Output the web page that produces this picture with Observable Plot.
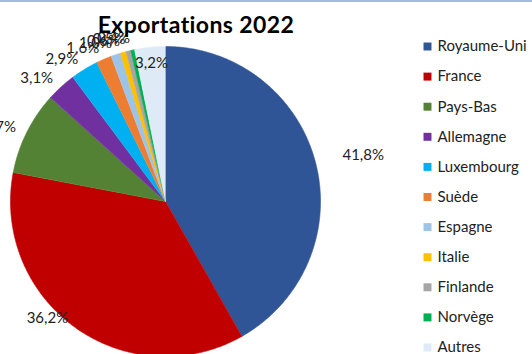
<!DOCTYPE html>
<html>
<head>
<meta charset="utf-8">
<script src="https://cdn.jsdelivr.net/npm/d3@7"></script>
<script src="https://cdn.jsdelivr.net/npm/@observablehq/plot@0.6"></script>
<style>
  html, body { margin: 0; padding: 0; background: #fff; }
  #wrap { position: relative; width: 532px; height: 354px; overflow: hidden; }
  #topline { position: absolute; left: 0; top: 0; width: 532px; height: 2px; background: #a5bbe0; }
  #title { position: absolute; left: 0; width: 392px; top: 10px; text-align: center;
           font-family: Lato, sans-serif; font-weight: bold; font-size: 23px; letter-spacing: 0.4px; color: #000; }
</style>
</head>
<body>
<div id="wrap"><div id="chart"></div><div id="topline"></div><div id="title">Exportations 2022</div></div>
<script>
const countries = ["Royaume-Uni","France","Pays-Bas","Allemagne","Luxembourg","Suède","Espagne","Italie","Finlande","Norvège","Autres"];
const shares = [41.8, 36.2, 8.7, 3.1, 2.9, 1.6, 1.0, 0.6, 0.5, 0.4, 3.2];
const colors = ["#2F5597","#C00000","#548235","#7030A0","#00B0F0","#ED7D31","#9DC3E6","#FFC000","#A5A5A5","#00B050","#DEEBF7"];

const W = 532, H = 354;
const cx = 165, cy = 201, r = 155;

const total = d3.sum(shares);
let acc = 0;
const slices = countries.map((name, i) => {
  const a0 = acc / total * 2 * Math.PI;
  acc += shares[i];
  const a1 = acc / total * 2 * Math.PI;
  return {name, value: shares[i], a0, a1, mid: (a0 + a1) / 2};
});

// polygon points for each slice
const pts = [];
for (const s of slices) {
  pts.push({name: s.name, x: cx, y: cy});
  const n = Math.max(2, Math.ceil((s.a1 - s.a0) / (Math.PI / 360)));
  for (let k = 0; k <= n; k++) {
    const a = s.a0 + (s.a1 - s.a0) * k / n;
    pts.push({name: s.name, x: cx + r * Math.sin(a), y: cy - r * Math.cos(a)});
  }
}

// label placement rule: outside end, anchored away from the pie;
// a slice next to 12 o'clock has no room and gets its label inside
const labels = slices.map(s => {
  const txt = s.value.toFixed(1).replace(".", ",") + "%";
  const nearTop = (2 * Math.PI - s.mid) < 0.15;
  const right = Math.sin(s.mid) > 0;
  const R = nearTop ? r * 0.9 : right ? r + 28 : r + 12;
  return {
    text: txt,
    anchor: nearTop ? "middle" : right ? "start" : "end",
    x: cx + R * Math.sin(s.mid),
    y: Math.min(cy - R * Math.cos(s.mid), 318)
  };
});

const legend = countries.map((name, i) => ({name, i}));

const chart = Plot.plot({
  width: W, height: H,
  margin: 0,
  x: {domain: [0, W], range: [0, W], axis: null},
  y: {domain: [0, H], range: [0, H], axis: null},
  color: {domain: countries, range: colors},
  style: {fontFamily: "Lato, sans-serif", background: "transparent"},
  marks: [
    Plot.line(pts, {x: "x", y: "y", z: "name", fill: "name", stroke: "name", strokeWidth: 0.6, curve: "linear"}),
    Plot.text(labels.filter(d => d.anchor === "start"), {x: "x", y: "y", text: "text", textAnchor: "start", fontSize: 15, fill: "#222"}),
    Plot.text(labels.filter(d => d.anchor === "end"), {x: "x", y: "y", text: "text", textAnchor: "end", fontSize: 15, fill: "#222"}),
    Plot.text(labels.filter(d => d.anchor === "middle"), {x: "x", y: "y", text: "text", textAnchor: "middle", fontSize: 15, fill: "#222"}),
    Plot.dot(legend, {x: () => 427, y: d => 46 + d.i * 30.1, symbol: "square", r: 4.5, fill: "name", stroke: "none"}),
    Plot.text(legend, {x: () => 437, y: d => 46 + d.i * 30.1, text: "name", textAnchor: "start", fontSize: 15, fill: "#222"})
  ]
});
document.getElementById("chart").appendChild(chart);
</script>
</body>
</html>
